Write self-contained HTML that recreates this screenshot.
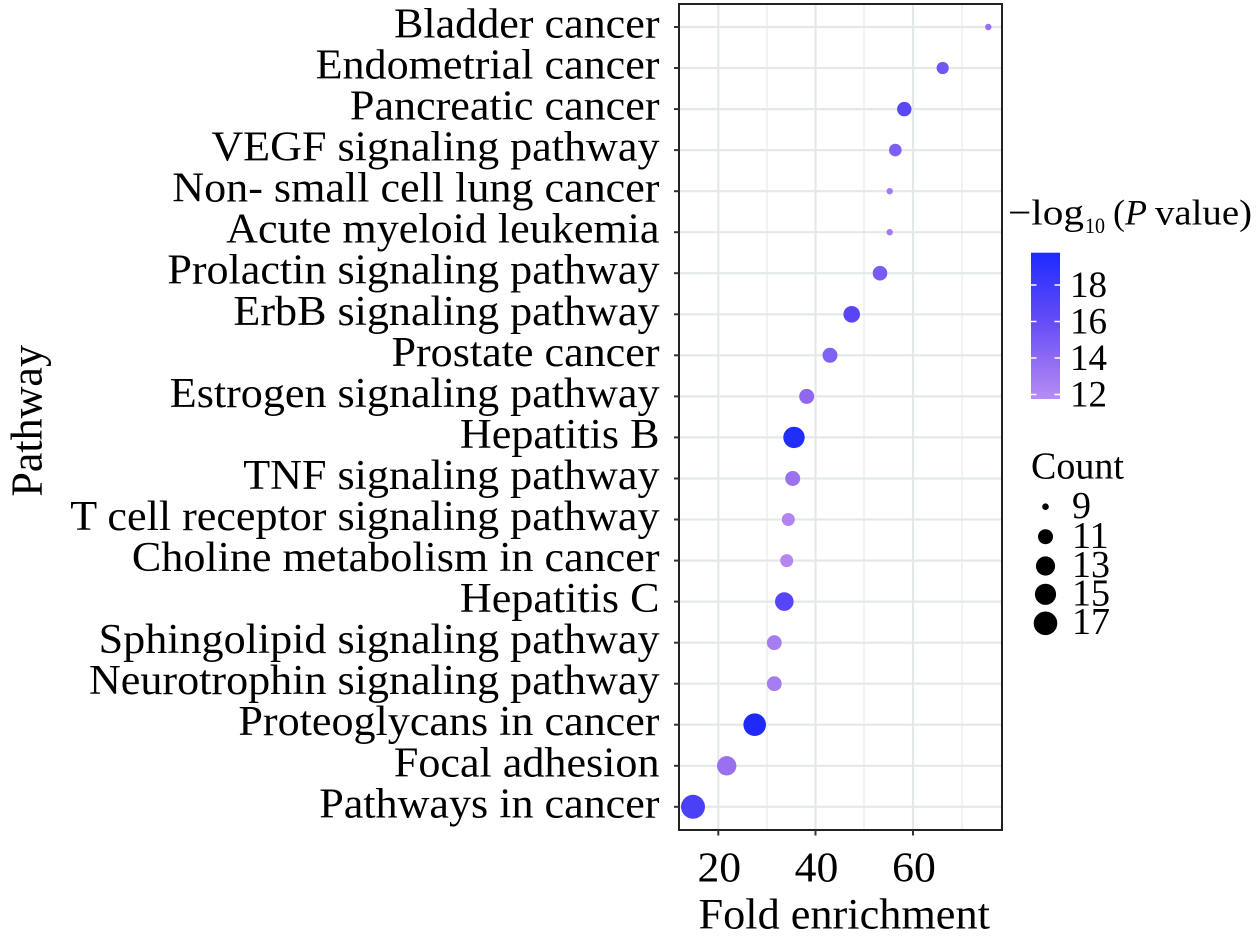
<!DOCTYPE html>
<html>
<head>
<meta charset="utf-8">
<style>
html,body{margin:0;padding:0;background:#fff;}
svg{display:block;}
text{font-family:"Liberation Serif","Times New Roman",serif;fill:#000;}
</style>
</head>
<body>
<svg width="1260" height="944" viewBox="0 0 1260 944" xmlns="http://www.w3.org/2000/svg">
<defs>
<linearGradient id="cb" x1="0" y1="0" x2="0" y2="1">
<stop offset="0" stop-color="#1e2aff"/>
<stop offset="0.5" stop-color="#6a4ff6"/>
<stop offset="1" stop-color="#b88cf4"/>
</linearGradient>
</defs>
<rect x="0" y="0" width="1260" height="944" fill="#fff"/>

<rect x="679" y="4" width="323" height="826" fill="#fff"/>

<g stroke="#e6ebea" stroke-width="1.2">
<line x1="767" y1="4" x2="767" y2="830"/>
<line x1="864" y1="4" x2="864" y2="830"/>
<line x1="962" y1="4" x2="962" y2="830"/>
</g>
<g stroke="#e4e9e8" stroke-width="2.2">
<line x1="718.3" y1="4" x2="718.3" y2="830"/>
<line x1="815.5" y1="4" x2="815.5" y2="830"/>
<line x1="913" y1="4" x2="913" y2="830"/>
</g>
<g stroke="#e4e9e8" stroke-width="2.2">
<line x1="679" y1="27" x2="1002" y2="27"/>
<line x1="679" y1="68" x2="1002" y2="68"/>
<line x1="679" y1="109.1" x2="1002" y2="109.1"/>
<line x1="679" y1="150.1" x2="1002" y2="150.1"/>
<line x1="679" y1="191.2" x2="1002" y2="191.2"/>
<line x1="679" y1="232.2" x2="1002" y2="232.2"/>
<line x1="679" y1="273.2" x2="1002" y2="273.2"/>
<line x1="679" y1="314.3" x2="1002" y2="314.3"/>
<line x1="679" y1="355.3" x2="1002" y2="355.3"/>
<line x1="679" y1="396.4" x2="1002" y2="396.4"/>
<line x1="679" y1="437.4" x2="1002" y2="437.4"/>
<line x1="679" y1="478.5" x2="1002" y2="478.5"/>
<line x1="679" y1="519.5" x2="1002" y2="519.5"/>
<line x1="679" y1="560.6" x2="1002" y2="560.6"/>
<line x1="679" y1="601.6" x2="1002" y2="601.6"/>
<line x1="679" y1="642.7" x2="1002" y2="642.7"/>
<line x1="679" y1="683.7" x2="1002" y2="683.7"/>
<line x1="679" y1="724.7" x2="1002" y2="724.7"/>
<line x1="679" y1="765.8" x2="1002" y2="765.8"/>
<line x1="679" y1="806.8" x2="1002" y2="806.8"/>
</g>

<g>
<circle cx="988.3" cy="27" r="3.2" fill="#9670f2"/>
<circle cx="942.7" cy="68" r="6.1" fill="#6f57f5"/>
<circle cx="904.3" cy="109.1" r="7.2" fill="#5a47f8"/>
<circle cx="895.3" cy="150.1" r="6.3" fill="#7e5ff3"/>
<circle cx="889.7" cy="191.2" r="3.2" fill="#a47cf1"/>
<circle cx="889.7" cy="232.2" r="3.2" fill="#a47cf1"/>
<circle cx="880" cy="273.2" r="7.3" fill="#7a5cf4"/>
<circle cx="851.7" cy="314.3" r="8.3" fill="#5845f8"/>
<circle cx="830" cy="355.3" r="7.5" fill="#8062f2"/>
<circle cx="806.7" cy="396.4" r="7.5" fill="#9068f0"/>
<circle cx="794" cy="437.4" r="10.7" fill="#1f2ff9"/>
<circle cx="792.7" cy="478.5" r="7.5" fill="#9a72f0"/>
<circle cx="788.3" cy="519.5" r="6.5" fill="#b383f2"/>
<circle cx="786.7" cy="560.6" r="6.5" fill="#b585f2"/>
<circle cx="784.3" cy="601.6" r="9.3" fill="#5746f7"/>
<circle cx="774.3" cy="642.7" r="7.4" fill="#a67cf1"/>
<circle cx="774.3" cy="683.7" r="7.4" fill="#a67cf1"/>
<circle cx="754.7" cy="724.7" r="11.3" fill="#2129f8"/>
<circle cx="726.7" cy="765.8" r="9.7" fill="#9a70ee"/>
<circle cx="693" cy="806.8" r="12" fill="#4a40f8"/>
</g>

<rect x="679" y="4" width="323" height="826" fill="none" stroke="#222" stroke-width="2"/>

<g stroke="#333" stroke-width="2">
<line x1="674" y1="27" x2="679" y2="27"/>
<line x1="674" y1="68" x2="679" y2="68"/>
<line x1="674" y1="109.1" x2="679" y2="109.1"/>
<line x1="674" y1="150.1" x2="679" y2="150.1"/>
<line x1="674" y1="191.2" x2="679" y2="191.2"/>
<line x1="674" y1="232.2" x2="679" y2="232.2"/>
<line x1="674" y1="273.2" x2="679" y2="273.2"/>
<line x1="674" y1="314.3" x2="679" y2="314.3"/>
<line x1="674" y1="355.3" x2="679" y2="355.3"/>
<line x1="674" y1="396.4" x2="679" y2="396.4"/>
<line x1="674" y1="437.4" x2="679" y2="437.4"/>
<line x1="674" y1="478.5" x2="679" y2="478.5"/>
<line x1="674" y1="519.5" x2="679" y2="519.5"/>
<line x1="674" y1="560.6" x2="679" y2="560.6"/>
<line x1="674" y1="601.6" x2="679" y2="601.6"/>
<line x1="674" y1="642.7" x2="679" y2="642.7"/>
<line x1="674" y1="683.7" x2="679" y2="683.7"/>
<line x1="674" y1="724.7" x2="679" y2="724.7"/>
<line x1="674" y1="765.8" x2="679" y2="765.8"/>
<line x1="674" y1="806.8" x2="679" y2="806.8"/>
</g>
<g stroke="#333" stroke-width="2">
<line x1="718.3" y1="830" x2="718.3" y2="835.5"/>
<line x1="815.5" y1="830" x2="815.5" y2="835.5"/>
<line x1="913" y1="830" x2="913" y2="835.5"/>
</g>

<g font-size="42" text-anchor="end">
<text transform="translate(659.5,37.5) scale(1.05,1)">Bladder cancer</text>
<text transform="translate(659.5,78.5) scale(1.05,1)">Endometrial cancer</text>
<text transform="translate(659.5,119.6) scale(1.05,1)">Pancreatic cancer</text>
<text transform="translate(659.5,160.6) scale(1.05,1)">VEGF signaling pathway</text>
<text transform="translate(659.5,201.7) scale(1.05,1)">Non- small cell lung cancer</text>
<text transform="translate(659.5,242.7) scale(1.05,1)">Acute myeloid leukemia</text>
<text transform="translate(659.5,283.7) scale(1.05,1)">Prolactin signaling pathway</text>
<text transform="translate(659.5,324.8) scale(1.05,1)">ErbB signaling pathway</text>
<text transform="translate(659.5,365.8) scale(1.05,1)">Prostate cancer</text>
<text transform="translate(659.5,406.9) scale(1.05,1)">Estrogen signaling pathway</text>
<text transform="translate(659.5,447.9) scale(1.05,1)">Hepatitis B</text>
<text transform="translate(659.5,489) scale(1.05,1)">TNF signaling pathway</text>
<text transform="translate(659.5,530) scale(1.05,1)">T cell receptor signaling pathway</text>
<text transform="translate(659.5,571.1) scale(1.05,1)">Choline metabolism in cancer</text>
<text transform="translate(659.5,612.1) scale(1.05,1)">Hepatitis C</text>
<text transform="translate(659.5,653.2) scale(1.05,1)">Sphingolipid signaling pathway</text>
<text transform="translate(659.5,694.2) scale(1.05,1)">Neurotrophin signaling pathway</text>
<text transform="translate(659.5,735.2) scale(1.05,1)">Proteoglycans in cancer</text>
<text transform="translate(659.5,776.3) scale(1.05,1)">Focal adhesion</text>
<text transform="translate(659.5,817.3) scale(1.05,1)">Pathways in cancer</text>
</g>

<g font-size="42" text-anchor="middle">
<text transform="translate(719.3,881.7) scale(1.04,1)">20</text>
<text transform="translate(816.5,881.7) scale(1.04,1)">40</text>
<text transform="translate(914,881.7) scale(1.04,1)">60</text>
</g>

<text font-size="43" text-anchor="middle" transform="translate(844.2,928.3) scale(1.03,1)">Fold enrichment</text>
<text font-size="44" text-anchor="middle" transform="translate(41.5,420.8) rotate(-90)">Pathway</text>

<text font-size="36" x="1008" y="224.5" textLength="76" lengthAdjust="spacingAndGlyphs">−log</text>
<text font-size="22" x="1085" y="233" textLength="20" lengthAdjust="spacingAndGlyphs">10</text>
<text font-size="36" x="1113" y="224.5">(</text>
<text font-size="36" x="1125" y="224.5" font-style="italic">P</text>
<text font-size="36" x="1155" y="224.5" textLength="97" lengthAdjust="spacingAndGlyphs">value)</text>

<rect x="1031" y="252.7" width="29" height="146.3" fill="url(#cb)"/>
<g stroke="#fff" stroke-width="1.5">
<line x1="1031" y1="285" x2="1036.5" y2="285"/>
<line x1="1054.5" y1="285" x2="1060" y2="285"/>
<line x1="1031" y1="321.5" x2="1036.5" y2="321.5"/>
<line x1="1054.5" y1="321.5" x2="1060" y2="321.5"/>
<line x1="1031" y1="358" x2="1036.5" y2="358"/>
<line x1="1054.5" y1="358" x2="1060" y2="358"/>
<line x1="1031" y1="394.5" x2="1036.5" y2="394.5"/>
<line x1="1054.5" y1="394.5" x2="1060" y2="394.5"/>
</g>
<g font-size="37">
<text x="1070" y="297">18</text>
<text x="1070" y="333.5">16</text>
<text x="1070" y="370">14</text>
<text x="1070" y="406.5">12</text>
</g>

<text font-size="38" x="1031" y="478.3">Count</text>
<g fill="#000">
<circle cx="1045.5" cy="506.7" r="3.3"/>
<circle cx="1045.5" cy="536.7" r="7.5"/>
<circle cx="1045.5" cy="566" r="9.6"/>
<circle cx="1045.5" cy="594.3" r="10.6"/>
<circle cx="1045.5" cy="623.3" r="11.8"/>
</g>
<g font-size="38">
<text x="1072" y="518">9</text>
<text x="1072" y="548">11</text>
<text x="1072" y="577">13</text>
<text x="1072" y="605.5">15</text>
<text x="1072" y="634">17</text>
</g>
</svg>
</body>
</html>
